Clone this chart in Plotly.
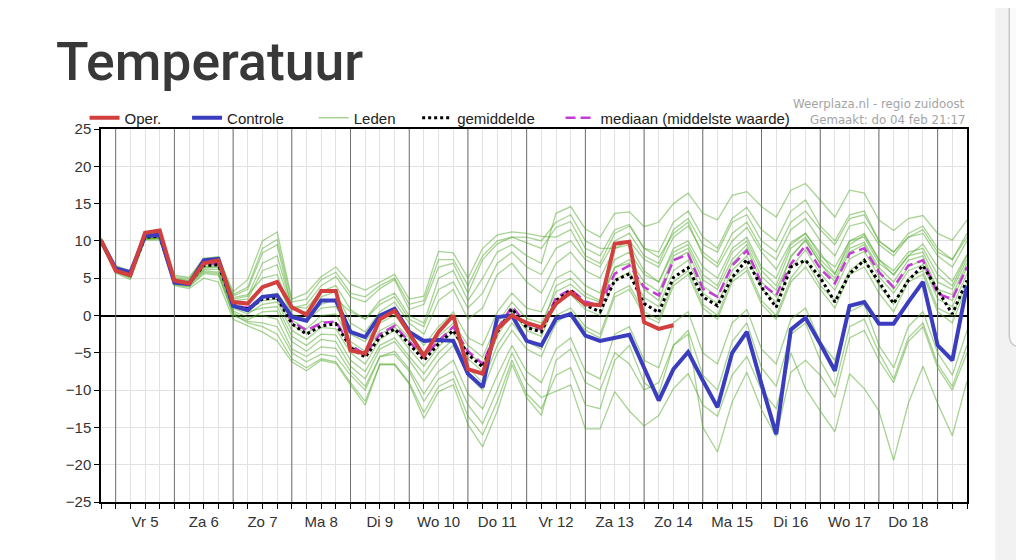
import plotly.graph_objects as go
import pandas as pd

# 6-hourly forecast times, GFS ensemble run of 4 feb
tijden = pd.date_range("2021-02-04 18:00", "2021-02-19 12:00", freq="6h")
dagen = ["Vr 5", "Za 6", "Zo 7", "Ma 8", "Di 9", "Wo 10", "Do 11",
         "Vr 12", "Za 13", "Zo 14", "Ma 15", "Di 16", "Wo 17", "Do 18"]

oper = [10.1, 6.0, 5.4, 11.1, 11.4, 4.7, 4.3, 7.0, 7.4,
        1.8, 1.6, 3.8, 4.5, 1.1, 0.1, 3.3, 3.3,
        -4.7, -5.1, -0.5, 0.6, -2.5, -5.4, -2.2, 0.0, -7.2, -7.8, -1.8, 0.0, -1.0, -1.6,
        1.6, 3.1, 1.5, 1.4, 9.6, 9.9, -0.9, -1.8, -1.3]

controle = [10.0, 6.3, 5.8, 10.7, 10.8, 4.4, 4.2, 7.4, 7.6,
            1.3, 0.7, 2.5, 2.7, -0.2, -0.7, 2.0, 2.0,
            -2.2, -2.9, 0.0, 0.9, -2.2, -3.4, -3.3, -3.4, -7.8, -9.6, -0.2, 0.0, -3.4, -4.0,
            -0.4, 0.2, -2.7, -3.4, -3.0, -2.6, -7.0, -11.4, -7.2, -4.9, -8.7, -12.3, -5.0, -2.2,
            -9.2, -15.9, -1.9, -0.3, -3.8, -7.4, 1.3, 1.8, -1.1, -1.1, 1.8, 4.5, -4.0, -6.0, 4.0]

gemiddelde = [10.0, 6.2, 5.5, 10.5, 10.6, 4.6, 4.3, 6.7, 6.8,
              1.3, 0.9, 2.2, 2.4, -1.1, -2.5, -1.4, -1.1,
              -4.3, -5.6, -2.9, -1.8, -3.8, -6.0, -3.8, -2.0, -5.2, -6.9, -2.2, 0.9, -1.6, -2.2,
              2.0, 3.4, 1.4, 0.5, 4.7, 5.6, 1.6, 0.4, 5.1, 6.4, 2.5, 1.3, 5.1, 7.5, 3.8, 1.1,
              6.5, 7.4, 5.1, 1.8, 5.6, 7.4, 4.5, 1.6, 4.7, 6.7, 3.4, 0.2, 4.7]

mediaan = [10.0, 6.2, 5.6, 10.6, 10.7, 4.7, 4.4, 6.9, 7.0,
           1.4, 1.0, 2.4, 2.6, -0.8, -2.0, -1.0, -0.8,
           -4.0, -5.2, -2.5, -1.4, -3.5, -5.6, -3.4, -1.5, -4.8, -6.5, -1.8, 1.2, -1.2, -1.8,
           2.4, 3.5, 1.9, 1.3, 5.6, 6.7, 3.8, 2.7, 7.4, 8.2, 3.6, 2.5, 6.7, 8.7, 4.3, 2.7,
           6.9, 9.4, 6.3, 4.3, 8.3, 9.0, 5.8, 3.8, 6.7, 7.4, 2.9, 2.2, 6.5]

leden = [
    [10.3, 6.6, 5.9, 11.0, 11.2, 5.2, 4.9, 7.6, 7.9,
     3.2, 4.8, 10.0, 11.2, 2.2, 3.0, 5.2, 6.5,
     4.2, 3.4, 4.5, 5.5, 2.2, 2.6, 8.6, 8.4, 5.0, 9.0, 10.8, 11.2, 11.0, 10.6,
     10.5, 11.5, 8.0, 7.0, 11.0, 12.0, 9.0, 8.5, 12.5, 14.0, 10.5, 9.0, 13.0, 14.5, 11.5, 10.0,
     14.0, 15.5, 12.0, 10.0, 13.5, 14.0, 10.0, 8.5, 11.0, 12.0, 9.0, 7.5, 11.0],
    [10.1, 6.4, 5.7, 10.8, 10.9, 4.9, 4.6, 7.2, 7.5,
     2.6, 3.5, 8.4, 9.5, 1.0, 1.5, 4.0, 5.2,
     2.5, 1.8, 3.6, 4.8, 0.8, 1.5, 6.5, 7.0, 3.0, 7.5, 9.6, 10.5, 9.8, 9.0,
     11.8, 12.6, 9.0, 8.0, 11.5, 12.2, 9.0, 7.8, 11.0, 12.5, 8.0, 6.5, 10.0, 11.8, 8.5, 6.2,
     9.8, 11.0, 8.4, 5.6, 9.5, 10.8, 7.5, 5.4, 8.0, 9.6, 6.5, 4.6, 8.2],
    [10.0, 6.2, 5.5, 10.6, 10.7, 4.7, 4.4, 6.9, 7.0,
     1.5, 1.0, 2.6, 3.0, -0.6, -1.8, 0.0, 0.2,
     -3.5, -4.8, -2.0, -1.0, -3.0, -5.0, -2.8, -1.0, -4.0, -5.6, -1.0, 1.8, -0.4, -1.0,
     3.2, 4.2, 2.5, 1.8, 6.4, 7.5, 4.5, 3.2, 8.0, 9.0, 4.8, 3.5, 7.5, 9.5, 5.2, 3.4,
     7.8, 10.2, 7.0, 5.0, 9.0, 9.8, 6.4, 4.5, 7.4, 8.0, 3.5, 2.8, 7.0],
    [9.8, 6.0, 5.3, 10.3, 10.4, 4.4, 4.1, 6.4, 6.5,
     1.0, 0.2, 1.5, 1.8, -2.0, -3.2, -1.6, -1.8,
     -5.0, -6.5, -3.2, -2.0, -4.5, -6.8, -4.2, -2.2, -5.8, -7.5, -2.8, 0.5, -2.0, -2.8,
     1.8, 2.8, 0.8, 0.0, 4.8, 5.8, 2.4, 1.2, 6.0, 7.4, 3.0, 1.6, 6.0, 8.0, 3.6, 1.8,
     6.4, 8.8, 5.6, 3.4, 7.6, 8.6, 5.2, 3.0, 6.0, 6.8, 2.2, 1.2, 5.6],
    [10.2, 6.3, 5.6, 10.4, 10.5, 4.6, 4.2, 6.9, 7.1,
     2.0, 2.2, 6.0, 6.8, 0.8, 0.5, 2.5, 3.2,
     -1.0, -2.2, 0.5, 1.8, -1.0, -2.5, 2.0, 3.5, -0.5, 1.0, 5.5, 7.0, 4.5, 3.0,
     7.0, 8.5, 6.0, 5.0, 9.0, 10.0, 7.5, 6.5, 10.5, 12.0, 8.5, 7.0, 11.0, 12.5, 9.0, 7.5,
     11.5, 13.0, 10.0, 8.0, 12.0, 12.5, 9.5, 8.0, 10.5, 11.0, 8.0, 6.5, 10.0],
    [9.9, 6.1, 5.4, 10.2, 10.3, 4.3, 4.0, 6.2, 6.2,
     0.4, -0.6, 0.5, 0.6, -3.5, -4.8, -3.2, -3.5,
     -6.8, -8.5, -4.5, -3.5, -6.0, -8.8, -6.0, -4.0, -8.0, -10.0, -5.0, -2.0, -4.5, -5.5,
     -1.0, 0.5, -2.0, -3.0, 2.5, 3.5, 0.0, -1.0, 4.0, 5.5, 1.0, -0.5, 4.5, 6.0, 1.5, -0.5,
     4.5, 6.5, 3.5, 1.0, 5.5, 6.5, 3.0, 0.5, 4.5, 5.5, 0.5, -1.0, 4.0],
    [9.6, 5.7, 4.8, 10.1, 10.1, 4.0, 3.6, 5.0, 4.5,
     -0.5, -1.4, -2.2, -3.4, -6.2, -7.4, -6.0, -6.4,
     -9.3, -12.0, -6.6, -6.6, -9.2, -13.8, -10.2, -9.3, -14.6, -17.6, -12.8, -6.6, -11.0, -13.4,
     -6.0, -4.5, -9.0, -10.0, -5.0, -6.5, -10.0, -9.0, -4.0, -2.5, -15.0, -18.3, -11.6, -7.6, -12.6, -16.2,
     -7.6, -6.0, -8.0, -11.0, -3.0, -2.0, -6.0, -9.0, -3.5, -1.5, -7.0, -10.0, -5.0],
    [9.7, 5.8, 5.0, 10.2, 10.3, 4.1, 3.8, 5.6, 5.4,
     0.0, -0.8, -1.0, -1.5, -5.0, -6.2, -5.2, -5.5,
     -8.0, -10.0, -5.5, -5.2, -7.5, -11.5, -8.5, -7.5, -12.0, -14.5, -10.0, -5.0, -9.0, -11.0,
     -10.2, -9.3, -15.2, -15.2, -10.2, -12.8, -14.8, -13.4, -9.8, -7.8, -12.0, -13.5, -8.0, -5.5, -10.0, -12.5,
     -5.0, -9.8, -12.8, -15.6, -7.8, -9.8, -12.8, -19.4, -11.8, -6.8, -11.8, -16.1, -8.8],
    [9.8, 6.0, 5.2, 10.4, 10.5, 4.5, 4.2, 6.0, 5.8,
     0.6, -0.2, 0.0, -0.5, -4.5, -5.5, -4.2, -4.4,
     -7.5, -9.5, -5.5, -4.8, -7.2, -10.5, -7.5, -6.0, -10.5, -12.5, -8.0, -4.0, -7.5, -9.0,
     -4.5, -3.0, -7.5, -8.5, -2.5, -1.5, -6.0, -7.0, -1.0, 0.5, -5.0, -6.5, -1.0, 0.8, -4.5, -6.5,
     -0.5, 1.0, -3.5, -6.0, 0.5, 1.5, -4.0, -7.0, -1.5, 0.5, -5.0, -8.0, -2.0],
    [10.4, 6.7, 6.0, 11.1, 11.3, 5.4, 5.1, 7.7, 7.8,
     2.4, 2.8, 5.0, 5.5, 0.2, -0.5, 1.5, 2.2,
     0.5, -0.5, 2.0, 3.0, 0.0, -1.0, 5.0, 6.0, 2.0, 5.0, 8.5, 9.5, 8.0, 7.0,
     13.7, 14.6, 11.6, 10.5, 13.7, 13.9, 11.9, 12.5, 15.0, 16.4, 13.7, 12.8, 16.1, 16.6, 14.6, 13.2,
     16.8, 17.7, 15.5, 13.2, 16.8, 16.4, 12.8, 11.4, 13.0, 13.4, 11.0, 10.1, 12.8],
    [10.1, 6.3, 5.6, 10.7, 10.8, 4.8, 4.5, 7.0, 7.2,
     1.8, 1.5, 4.0, 4.5, 0.0, -0.8, 1.0, 1.2,
     -2.5, -3.5, -1.0, 0.0, -2.0, -4.0, -1.5, 0.5, -3.0, -4.0, 0.5, 3.0, 1.0, 0.5,
     5.0, 6.0, 4.0, 3.0, 7.5, 8.5, 5.5, 4.5, 9.0, 10.0, 6.5, 5.0, 9.0, 10.5, 6.5, 5.0,
     9.5, 11.0, 8.0, 6.5, 10.0, 11.0, 7.5, 6.0, 8.5, 9.0, 5.5, 4.0, 8.0],
    [9.9, 6.1, 5.3, 10.5, 10.6, 4.6, 4.3, 6.5, 6.6,
     1.2, 0.5, 1.0, 1.2, -2.8, -4.0, -2.5, -2.6,
     -6.0, -7.5, -4.0, -3.0, -5.5, -7.8, -5.0, -3.2, -7.0, -9.0, -4.0, -1.0, -3.5, -4.5,
     0.0, 1.0, -1.5, -2.5, 3.0, 4.0, 0.5, -0.5, 4.5, 6.0, 1.5, 0.0, 5.0, 6.5, 2.0, 0.0,
     5.0, 7.5, 4.0, 2.0, 6.0, 7.5, 4.0, 1.5, 5.0, 6.0, 1.0, 0.0, 4.5],
    [10.0, 6.4, 5.6, 10.6, 10.6, 4.7, 4.4, 7.1, 7.3,
     2.2, 2.6, 7.0, 8.0, 1.2, 1.0, 3.2, 4.0,
     0.8, -0.5, 1.5, 2.5, -0.5, -1.5, 3.5, 4.5, 1.0, 3.0, 7.0, 8.5, 6.5, 5.5,
     9.0, 10.0, 7.5, 6.5, 10.0, 11.0, 8.0, 7.0, 11.5, 13.0, 9.5, 8.5, 12.5, 13.5, 10.0, 8.5,
     12.5, 14.0, 11.5, 9.5, 13.0, 13.5, 10.0, 8.5, 10.5, 11.5, 8.5, 7.5, 10.5],
    [10.2, 6.2, 5.4, 10.5, 10.6, 4.5, 4.2, 6.6, 6.8,
     1.6, 0.6, 2.0, 2.2, -1.2, -2.5, -0.8, -1.0,
     -4.0, -5.5, -2.5, -1.5, -3.5, -5.5, -3.5, -1.5, -5.0, -6.5, -2.0, 1.0, -1.5, -2.0,
     4.0, 5.0, 3.0, 2.0, 6.5, 7.0, 3.5, 2.0, 7.5, 8.5, 4.0, 2.5, 7.0, 9.0, 4.5, 2.5,
     8.0, 10.0, 7.0, 4.5, 8.5, 9.5, 6.0, 3.5, 6.5, 7.5, 3.0, 2.0, 6.5],
    [9.7, 5.9, 5.1, 10.3, 10.4, 4.2, 3.9, 5.8, 5.6,
     0.2, -1.0, -1.5, -2.5, -5.8, -7.0, -5.8, -6.2,
     -9.0, -11.5, -6.5, -6.5, -9.0, -13.0, -9.5, -8.5, -13.5, -16.0, -11.5, -6.0, -10.5, -12.5,
     -8.0, -7.0, -12.0, -12.5, -6.0, -4.0, -9.0, -10.5, -4.0, -2.0, -8.0, -10.0, -3.5, -1.0, -7.0, -9.5,
     -2.5, -1.0, -6.0, -9.5, -1.5, -0.5, -5.0, -8.5, -3.0, -1.0, -6.5, -9.5, -4.0],
    [10.3, 6.5, 5.8, 10.8, 11.0, 5.0, 4.7, 7.4, 7.6,
     2.8, 3.8, 9.0, 10.2, 1.8, 2.2, 4.8, 5.8,
     3.0, 2.5, 4.0, 5.0, 1.5, 2.0, 7.5, 7.5, 4.0, 8.0, 10.0, 10.5, 10.5, 10.0,
     12.5, 13.5, 10.0, 9.0, 9.0, 9.5, 6.0, 4.5, 8.5, 9.5, 5.5, 4.0, 8.5, 10.0, 6.0, 4.0,
     9.0, 10.5, 7.5, 5.5, 10.0, 10.5, 7.0, 5.5, 8.0, 8.5, 4.5, 3.5, 7.5],
]

NBSP = "\u00a0"
fig = go.Figure()

for n, lid in enumerate(leden):
    fig.add_trace(go.Scatter(
        x=tijden, y=lid, mode="lines",
        line=dict(color="rgba(80,170,40,0.5)", width=1.3),
        name="Leden" + NBSP * 4, legendgroup="leden", legendrank=3,
        showlegend=(n == 0), hoverinfo="skip"))

fig.add_trace(go.Scatter(x=tijden, y=mediaan, mode="lines",
                         line=dict(color="#c43cd6", width=2.5, dash="10px,5px"),
                         name="mediaan (middelste waarde)", legendrank=5))
fig.add_trace(go.Scatter(x=tijden, y=gemiddelde, mode="lines",
                         line=dict(color="black", width=3, dash="3px,3px"),
                         name="gemiddelde" + NBSP * 5, legendrank=4))
fig.add_trace(go.Scatter(x=tijden, y=controle, mode="lines",
                         line=dict(color="#3b3dbf", width=4),
                         name="Controle" + NBSP * 6, legendrank=2))
fig.add_trace(go.Scatter(x=tijden[:len(oper)], y=oper, mode="lines",
                         line=dict(color="#d13f3f", width=4),
                         name="Oper." + NBSP * 5, legendrank=1))

# tick every 6 hours, day name at noon
ticktext = []
k = 0
for t in tijden:
    if t.hour == 12 and k < len(dagen):
        ticktext.append(dagen[k])
        k += 1
    else:
        ticktext.append("")

shapes = []
for d in pd.date_range("2021-02-05", "2021-02-19", freq="D"):
    shapes.append(dict(type="line", x0=d, x1=d, y0=-25, y1=25, xref="x", yref="y",
                       line=dict(color="#707070", width=1), layer="between"))

# phone screenshot edge on the right
shapes.append(dict(type="rect", xref="paper", yref="paper", x0=1.0327, x1=1.1, y0=-0.2, y1=1.4,
                   line=dict(width=0), fillcolor="#f2f2f2", layer="below"))
rx, ry = 0.0139, 0.0322
x0, x1, yb, yt = 1.0488, 1.1, 0.4155, 1.45
shapes.append(dict(type="path", xref="paper", yref="paper",
                   path=f"M {x0},{yt} L {x0},{yb + ry} Q {x0},{yb} {x0 + rx},{yb} L {x1},{yb} L {x1},{yt} Z",
                   line=dict(color="#c8c8c8", width=1.5), fillcolor="#fafafa", layer="below"))

fig.update_layout(
    width=1016, height=552,
    margin=dict(l=93, r=57, t=121, b=58),
    paper_bgcolor="white", plot_bgcolor="white",
    font=dict(family="Liberation Sans, Arial, sans-serif", size=15, color="#333"),
    showlegend=True,
    legend=dict(orientation="h", x=-0.019, xanchor="left", y=1.0295, yanchor="middle",
                bgcolor="rgba(0,0,0,0)", itemwidth=30, font=dict(size=15, color="#222")),
    shapes=shapes,
    annotations=[
        dict(text="Temperatuur", xref="paper", yref="paper", x=-0.054, y=1.182,
             xanchor="left", yanchor="middle", showarrow=False,
             font=dict(family="Roboto", size=53.5, color="#383838", weight=500)),
        dict(text="Weerplaza.nl - regio zuidoost", xref="paper", yref="paper", x=1.0, y=1.067,
             xanchor="right", yanchor="middle", showarrow=False,
             font=dict(family="DejaVu Sans", size=11.8, color="#a4a4a4")),
        dict(text="Gemaakt: do 04 feb 21:17", xref="paper", yref="paper", x=1.0, y=1.024,
             xanchor="right", yanchor="middle", showarrow=False,
             font=dict(family="DejaVu Sans", size=11.8, color="#a4a4a4")),
    ],
)

fig.update_xaxes(range=[tijden[0], tijden[-1]], tickmode="array", tickvals=tijden, ticktext=ticktext,
                 showgrid=True, gridcolor="#e2e2e2", gridwidth=1,
                 ticks="outside", ticklen=5, tickcolor="black",
                 showline=True, linecolor="black", linewidth=1.5, mirror=True,
                 tickfont=dict(size=15, color="#333"))
fig.update_yaxes(range=[-25, 25], dtick=5, showgrid=True, gridcolor="#e2e2e2",
                 zeroline=True, zerolinecolor="black", zerolinewidth=2,
                 ticks="outside", ticklen=5, tickcolor="black",
                 showline=True, linecolor="black", linewidth=1.5, mirror=True,
                 tickfont=dict(size=15, color="#333"))

fig.write_html("out.html")
